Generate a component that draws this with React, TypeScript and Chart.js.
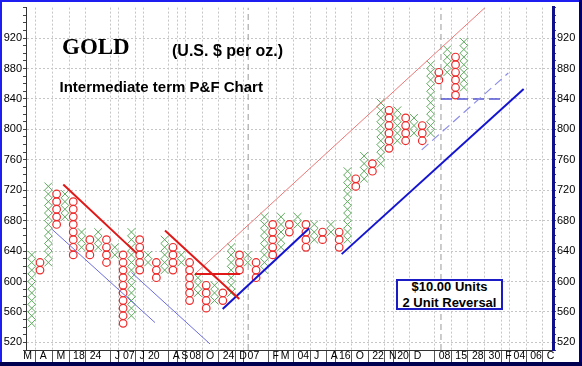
import React, { useEffect, useRef } from 'react';
import { Chart, registerables } from 'chart.js';
Chart.register(...registerables);

// ---- P&F columns (box = $10, 2-box reversal) ----
const colTypes = ['X','O','X','O','X','O','X','O','X','O','X','O','X','O','X','O','X','O','X','O','X','O','X','O','X','O','X','O','X','O','X','O','X','O','X','O','X','O','X','O','X','O','X','O','X','O','X','O','X','O','X','O','X'];
const colLows  = [545,615,625,675,685,635,645,635,645,625,635,545,555,615,625,605,615,615,625,575,585,565,575,575,585,615,625,605,615,635,645,665,675,645,655,655,665,645,655,725,735,745,755,775,785,785,795,785,795,865,875,845,855];
const colHighs = [635,625,725,715,715,705,665,655,665,655,645,635,665,655,635,625,655,645,635,625,605,595,595,585,645,635,635,625,685,675,685,675,685,675,675,665,675,665,745,735,765,755,835,825,825,815,815,805,885,875,905,895,915];
const boxSize = 10;

// ---- x-axis date labels (column where each starts) ----
const xLabelCols = [-1,1,3,5,7,10,11,13,14,17,18,19,21,23,25,26,29,30,32,34,36,37,39,41,43,44,46,49,51,53,55,57,58,60,62];
const xLabels = ['M','A','M','18','24','J','07','J','20','A','S','08','O','24','D','07','F','M','04','J','A','16','O','22','N','20','D','08','15','28','30','F','04','06','C'];

// ---- trend lines [column, price] ----
const redLine1 = [[3.8, 727.5], [12.64, 637]];
const redLine2 = [[16.04, 667], [24.98, 577]];
const redFlat = [[19.65, 610], [25.07, 610]];
const pinkChannel = [[19.65, 610], [54.55, 960]];
const thinBlue1 = [[2.41, 669], [14.84, 546]];
const thinBlue2 = [[12.0, 612], [21.45, 518]];
const blueUp1 = [[22.98, 564], [33.4, 670]];
const blueUp2 = [[37.3, 636], [59.2, 853]];
const dashedDiag = [[46.93, 773], [57.35, 874]];
const dashedFlat = [[49.25, 840], [56.75, 840]];
const yearLineCols = [26.05, 49.25];

const yMin = 510;
const yMax = 960;
const xMin = -0.686;
const xMax = 62.73;

const toPts = (arr: number[][]) => arr.map(([x, y]) => ({ x, y }));

export default function App() {
  const ref = useRef<HTMLCanvasElement>(null);

  useEffect(() => {
    const xPts: { x: number; y: number }[] = [];
    const oPts: { x: number; y: number }[] = [];
    colTypes.forEach((t, i) => {
      for (let p = colLows[i]; p <= colHighs[i]; p += boxSize) {
        (t === 'X' ? xPts : oPts).push({ x: i, y: p });
      }
    });

    const line = (data: number[][], color: string, width: number, dash: number[] = []) => ({
      data: toPts(data),
      showLine: true,
      borderColor: color,
      backgroundColor: color,
      borderWidth: width,
      borderDash: dash,
      pointRadius: 0,
      pointHoverRadius: 0,
      tension: 0,
    });

    const yearDs = yearLineCols.map((c) =>
      line([[c, yMin], [c, yMax]], '#9a9a9a', 1, [6, 4])
    );

    const axisFont = { family: "Arial, 'Liberation Sans', sans-serif", size: 11 };

    const chart = new Chart(ref.current as HTMLCanvasElement, {
      type: 'scatter',
      data: {
        datasets: [
          line(redLine1, '#e01818', 2),
          line(redLine2, '#e01818', 2),
          line(redFlat, '#e01818', 2),
          line(pinkChannel, '#ec7878', 1),
          line(thinBlue1, '#6c6cdc', 1),
          line(thinBlue2, '#6c6cdc', 1),
          line(blueUp1, '#1414d0', 2),
          line(blueUp2, '#1414d0', 2),
          line(dashedDiag, '#8c8ce8', 1.2, [9, 5]),
          line(dashedFlat, '#5454d4', 1.5, [11, 5]),
          ...yearDs,
          {
            data: xPts,
            pointStyle: 'crossRot',
            pointRadius: 5.5,
            pointHoverRadius: 5.5,
            borderColor: '#5eaa5e',
            backgroundColor: '#5eaa5e',
            pointBorderWidth: 1,
            showLine: false,
          },
          {
            data: oPts,
            pointStyle: 'circle',
            pointRadius: 3.8,
            pointHoverRadius: 3.8,
            borderColor: '#ee2a2a',
            backgroundColor: 'rgba(0,0,0,0)',
            pointBorderWidth: 1.2,
            showLine: false,
          },
        ] as any,
      },
      options: {
        animation: false,
        responsive: false,
        events: [],
        layout: { padding: { top: 2, left: 0, right: 0, bottom: 0 } },
        plugins: { legend: { display: false }, tooltip: { enabled: false }, title: { display: false } },
        scales: {
          x: {
            type: 'linear',
            min: xMin,
            max: xMax,
            afterBuildTicks: (s: any) => {
              s.ticks = xLabelCols.map((c) => ({ value: c - 0.5 }));
            },
            afterFit: (s: any) => {
              s.height = 16;
            },
            ticks: {
              autoSkip: false,
              maxRotation: 0,
              minRotation: 0,
              align: 'start',
              labelOffset: 4,
              padding: -12,
              color: '#000',
              font: { family: "Arial, 'Liberation Sans', sans-serif", size: 10.5 },
              callback: (_v: any, i: number) => xLabels[i],
            },
            grid: {
              color: (ctx: any) => (ctx.tick && ctx.tick.value < xMin ? 'rgba(0,0,0,0)' : '#c6c6c6'),
              tickColor: (ctx: any) => (ctx.tick && ctx.tick.value < xMin ? 'rgba(0,0,0,0)' : '#555'),
              tickLength: 12,
              tickBorderDash: [1, 0],
              lineWidth: 1,
            },
            border: { display: true, color: '#333', width: 1, dash: [2, 2] },
          } as any,
          y: {
            type: 'linear',
            position: 'left',
            min: yMin,
            max: yMax,
            afterFit: (s: any) => {
              s.width = 26;
            },
            ticks: {
              stepSize: 10,
              autoSkip: false,
              padding: 1,
              color: '#000',
              font: axisFont,
              callback: (v: any) => (v % 40 === 0 && v < 950 ? String(v) : ''),
            },
            grid: {
              color: (ctx: any) => (ctx.tick && ctx.tick.value % 40 === 0 && ctx.tick.value < 950 ? '#c6c6c6' : 'rgba(0,0,0,0)'),
              tickColor: '#444',
              tickLength: 3,
              tickBorderDash: [1, 0],
            },
            border: { display: true, color: '#333', width: 1, dash: [2, 2] },
          } as any,
          y2: {
            type: 'linear',
            position: 'right',
            min: yMin,
            max: yMax,
            afterFit: (s: any) => {
              s.width = 29;
            },
            ticks: {
              stepSize: 10,
              autoSkip: false,
              padding: 1,
              color: '#000',
              font: axisFont,
              callback: (v: any) => (v % 40 === 0 && v < 950 ? String(v) : ''),
            },
            grid: {
              drawOnChartArea: false,
              color: 'rgba(0,0,0,0)',
              tickColor: '#444',
              tickLength: 3,
              tickBorderDash: [1, 0],
            },
            border: { display: true, color: '#10108c', width: 3 },
          } as any,
        },
      },
    });
    return () => chart.destroy();
  }, []);

  const sans = "Arial, 'Liberation Sans', sans-serif";
  return (
    <div style={{ position: 'fixed', left: 0, top: 0, width: 582, height: 366, background: '#fff', overflow: 'hidden' }}>
      <canvas ref={ref} width={582} height={366} style={{ position: 'absolute', left: 0, top: 0, width: 582, height: 366 }} />
      <div style={{ position: 'absolute', left: 62, top: 34.5, fontFamily: "'Times New Roman', 'Liberation Serif', serif", fontWeight: 'bold', fontSize: 23, lineHeight: '23px', color: '#000', whiteSpace: 'nowrap' }}>GOLD</div>
      <div style={{ position: 'absolute', left: 172, top: 42.5, fontFamily: sans, fontWeight: 'bold', fontSize: 16, lineHeight: '16px', color: '#000', whiteSpace: 'nowrap' }}>(U.S. $ per oz.)</div>
      <div style={{ position: 'absolute', left: 59.5, top: 79, fontFamily: sans, fontWeight: 'bold', fontSize: 15, lineHeight: '15px', color: '#000', whiteSpace: 'nowrap' }}>Intermediate term P&amp;F Chart</div>
      <div style={{ position: 'absolute', left: 396, top: 279, width: 107, height: 31, boxSizing: 'border-box', border: '2px solid #1c1cc4', background: '#fff' }} />
      <div style={{ position: 'absolute', left: 396, top: 279, width: 107, textAlign: 'center', fontFamily: sans, fontWeight: 'bold', fontSize: 13, lineHeight: '15.5px', color: '#000', whiteSpace: 'nowrap' }}>
        <div>$10.00 Units</div>
        <div>2 Unit Reversal</div>
      </div>
      <div style={{ position: 'absolute', left: 0, top: 0, width: 582, height: 2, background: '#1e1ef0' }} />
      <div style={{ position: 'absolute', left: 0, top: 0, width: 2, height: 366, background: '#1e1ef0' }} />
      <div style={{ position: 'absolute', left: 579, top: 0, width: 3, height: 366, background: '#00006e' }} />
      <div style={{ position: 'absolute', left: 0, top: 362, width: 582, height: 4, background: '#000050' }} />
    </div>
  );
}
